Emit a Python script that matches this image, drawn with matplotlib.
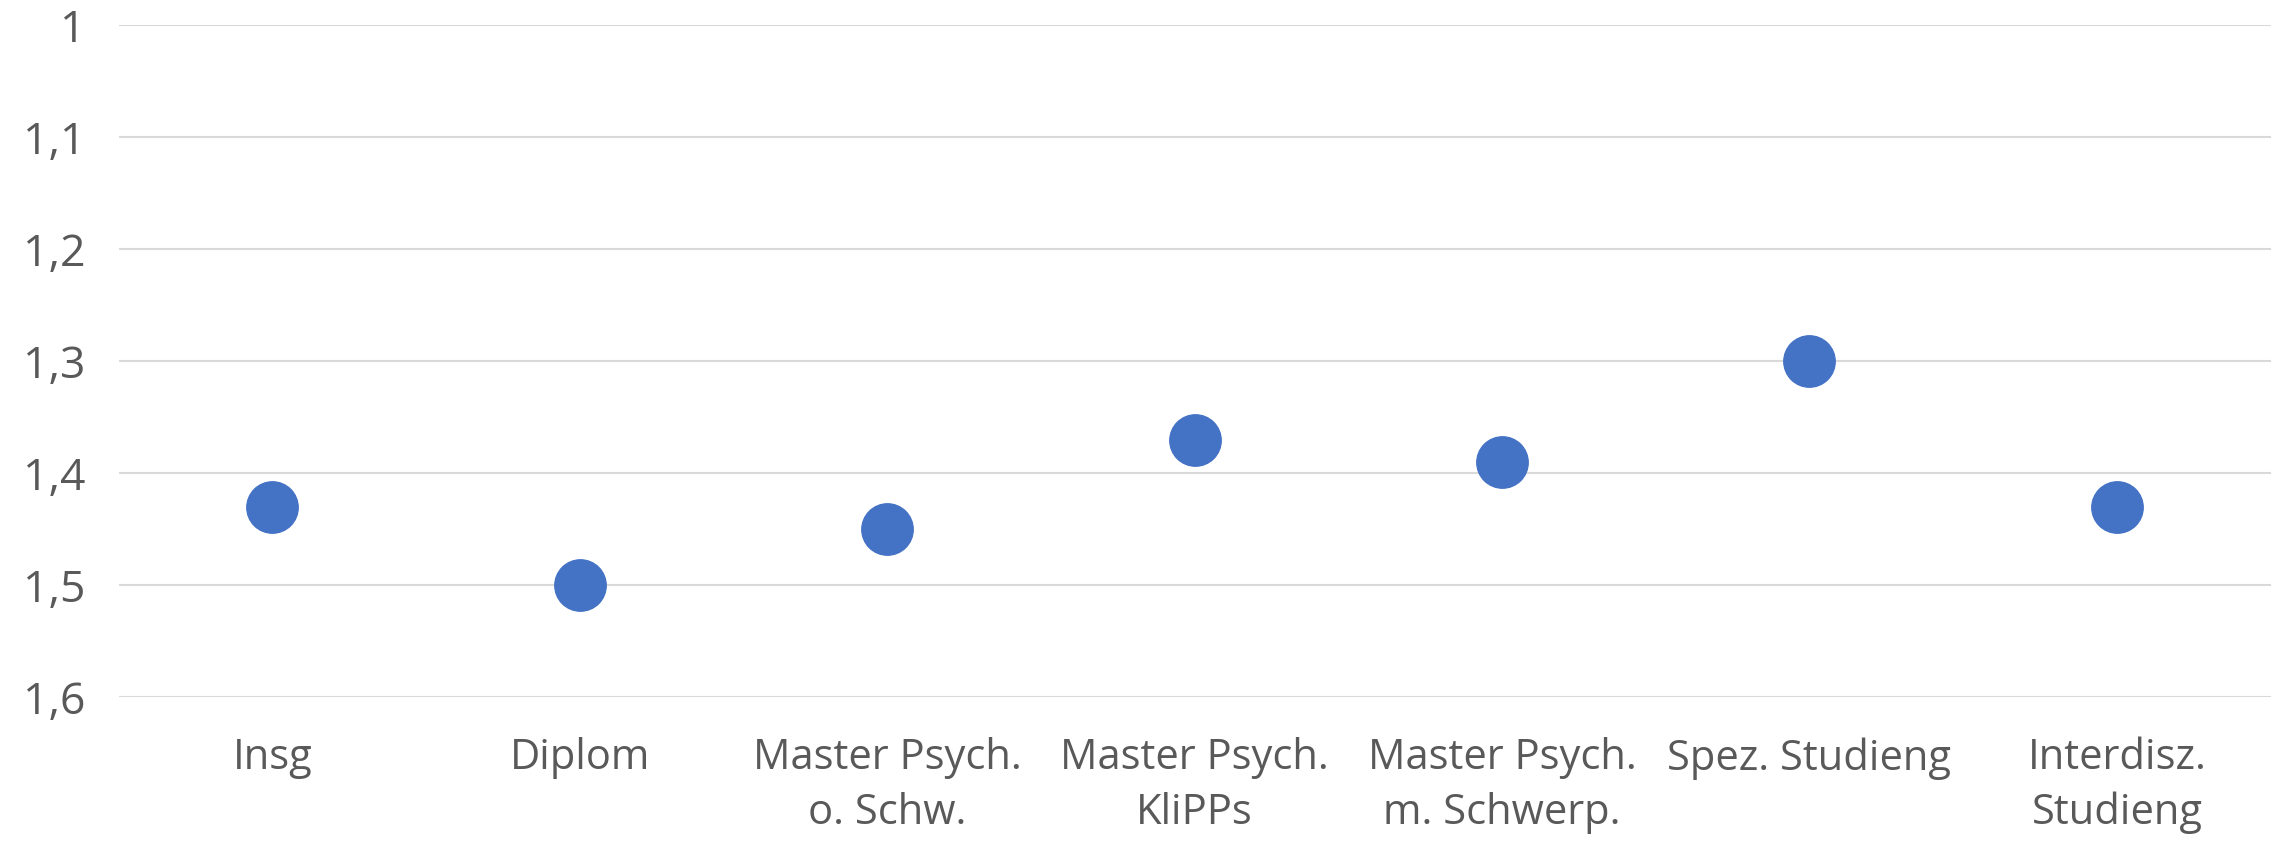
import matplotlib
matplotlib.use("Agg")
import matplotlib.pyplot as plt

# Daten
categories = ["Insg", "Diplom", "Master Psych.\no. Schw.", "Master Psych.\nKliPPs",
              "Master Psych.\nm. Schwerp.", "Spez. Studieng", "Interdisz.\nStudieng"]
values = [1.43, 1.50, 1.45, 1.37, 1.39, 1.30, 1.43]
y_ticks = [1.0, 1.1, 1.2, 1.3, 1.4, 1.5, 1.6]
y_labels = ["1", "1,1", "1,2", "1,3", "1,4", "1,5", "1,6"]

plt.rcParams['font.family'] = ['Open Sans', 'DejaVu Sans']

fig = plt.figure(figsize=(22.82, 8.41), dpi=100)
ax = fig.add_axes([0.052, 0.171, 0.943, 0.799])

x = list(range(len(categories)))
ax.plot(x, values, linestyle="none", marker="o", markersize=37,
        color="#4472C4", zorder=3)

ax.set_xlim(-0.5, len(categories) - 0.5)
ax.set_ylim(1.6, 1.0)
ax.set_yticks(y_ticks)
ax.set_yticklabels(y_labels)
ax.set_xticks(x)
ax.set_xticklabels(categories, linespacing=1.38)

ax.grid(axis="y", color="#d9d9d9", linewidth=1.5)
ax.set_axisbelow(True)
for s in ax.spines.values():
    s.set_visible(False)
ax.tick_params(axis="both", length=0, labelcolor="#595959")
ax.tick_params(axis="y", pad=24, labelsize=32)
ax.tick_params(axis="x", pad=29, labelsize=30)

plt.savefig("out.png", dpi=100)
